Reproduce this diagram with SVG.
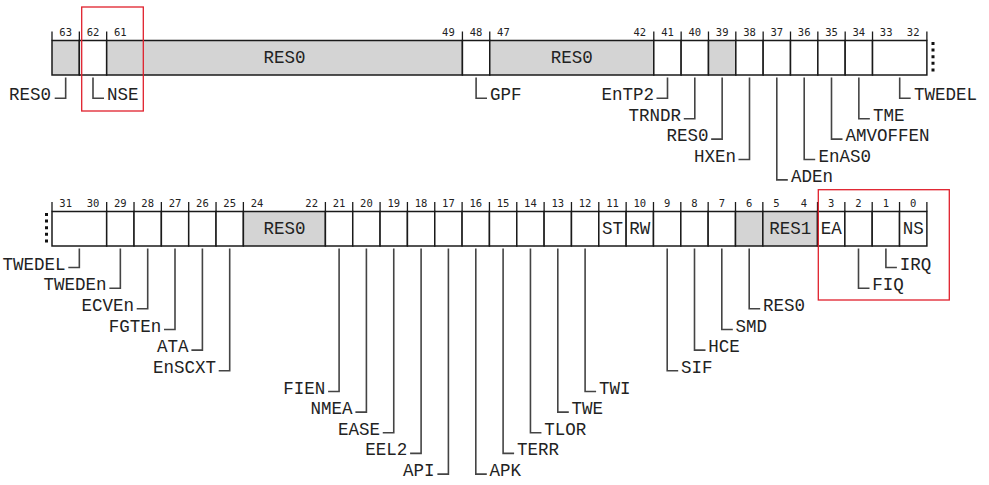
<svg xmlns="http://www.w3.org/2000/svg" width="989" height="485" viewBox="0 0 989 485">
<style>
.c{fill:#fff;stroke:#1a1a1a;stroke-width:1.5}
.g{fill:#d4d4d4;stroke:#1a1a1a;stroke-width:1.5}
.n{font-family:"DejaVu Sans Mono","Liberation Mono",monospace;font-size:10.5px;fill:#222;text-anchor:middle}
.t{font-family:"Liberation Mono","DejaVu Sans Mono",monospace;font-size:17.5px;fill:#222}
.m{text-anchor:middle}
.e{text-anchor:end}
.tick{stroke:#1a1a1a;stroke-width:1.3;fill:none}
.con{stroke:#444;stroke-width:1.6;fill:none}
.dot{stroke:#111;stroke-width:3;stroke-dasharray:3 3.6;fill:none}
.red{fill:none;stroke:#e0202c;stroke-width:1.3}
</style>
<rect width="989" height="485" fill="#fff"/>

<!-- top row -->
<g id="f63"><rect class="g" x="52" y="40.5" width="27.34" height="34.5"/><text class="n" x="65.67" y="36">63</text></g>
<g id="f62"><rect class="c" x="79.34" y="40.5" width="27.34" height="34.5"/><text class="n" x="93" y="36">62</text></g>
<g id="f61_49"><rect class="g" x="106.68" y="40.5" width="355.74" height="34.5"/><text class="n" x="120.35" y="36">61</text><text class="n" x="448.4" y="36">49</text><text class="t m" x="284.55" y="63.3">RES0</text></g>
<g id="f48"><rect class="c" x="462.42" y="40.5" width="27.34" height="34.5"/><text class="n" x="476.1" y="36">48</text></g>
<g id="f47_42"><rect class="g" x="489.76" y="40.5" width="164.04" height="34.5"/><text class="n" x="503.4" y="36">47</text><text class="n" x="639.8" y="36">42</text><text class="t m" x="571.78" y="63.3">RES0</text></g>
<g id="f41"><rect class="c" x="653.8" y="40.5" width="27.34" height="34.5"/><text class="n" x="667.5" y="36">41</text></g>
<g id="f40"><rect class="c" x="681.14" y="40.5" width="27.34" height="34.5"/><text class="n" x="694.8" y="36">40</text></g>
<g id="f39"><rect class="g" x="708.48" y="40.5" width="27.34" height="34.5"/><text class="n" x="722.15" y="36">39</text></g>
<g id="f38"><rect class="c" x="735.82" y="40.5" width="27.34" height="34.5"/><text class="n" x="749.5" y="36">38</text></g>
<g id="f37"><rect class="c" x="763.16" y="40.5" width="27.34" height="34.5"/><text class="n" x="776.8" y="36">37</text></g>
<g id="f36"><rect class="c" x="790.5" y="40.5" width="27.34" height="34.5"/><text class="n" x="804.2" y="36">36</text></g>
<g id="f35"><rect class="c" x="817.84" y="40.5" width="27.34" height="34.5"/><text class="n" x="831.5" y="36">35</text></g>
<g id="f34"><rect class="c" x="845.18" y="40.5" width="27.34" height="34.5"/><text class="n" x="858.85" y="36">34</text></g>
<g id="f33_32"><rect class="c" x="872.52" y="40.5" width="54.36" height="34.5"/><text class="n" x="886.2" y="36">33</text><text class="n" x="913.2" y="36">32</text></g>
<g id="top-ticks"><path class="tick" d="M52 31.5V40.5M79.34 31.5V40.5M106.68 31.5V40.5M462.42 31.5V40.5M489.76 31.5V40.5M653.8 31.5V40.5M681.14 31.5V40.5M708.48 31.5V40.5M735.82 31.5V40.5M763.16 31.5V40.5M790.5 31.5V40.5M817.84 31.5V40.5M845.18 31.5V40.5M872.52 31.5V40.5M926.88 31.5V40.5"/>
<path class="dot" d="M933 42V73"/></g>

<!-- bottom row -->
<g id="b31_30"><rect class="c" x="52" y="211.5" width="54.68" height="34.5"/><text class="n" x="65.67" y="206.7">31</text><text class="n" x="93" y="206.7">30</text></g>
<g id="b29"><rect class="c" x="106.68" y="211.5" width="27.34" height="34.5"/><text class="n" x="120.35" y="206.7">29</text></g>
<g id="b28"><rect class="c" x="134.02" y="211.5" width="27.34" height="34.5"/><text class="n" x="147.7" y="206.7">28</text></g>
<g id="b27"><rect class="c" x="161.36" y="211.5" width="27.34" height="34.5"/><text class="n" x="175" y="206.7">27</text></g>
<g id="b26"><rect class="c" x="188.7" y="211.5" width="27.34" height="34.5"/><text class="n" x="202.4" y="206.7">26</text></g>
<g id="b25"><rect class="c" x="216.04" y="211.5" width="27.34" height="34.5"/><text class="n" x="229.7" y="206.7">25</text></g>
<g id="b24_22"><rect class="g" x="243.38" y="211.5" width="82.02" height="34.5"/><text class="n" x="257.05" y="206.7">24</text><text class="n" x="311.7" y="206.7">22</text><text class="t m" x="284.4" y="234.3">RES0</text></g>
<g id="b21"><rect class="c" x="325.4" y="211.5" width="27.34" height="34.5"/><text class="n" x="339.1" y="206.7">21</text></g>
<g id="b20"><rect class="c" x="352.74" y="211.5" width="27.34" height="34.5"/><text class="n" x="366.4" y="206.7">20</text></g>
<g id="b19"><rect class="c" x="380.08" y="211.5" width="27.34" height="34.5"/><text class="n" x="393.75" y="206.7">19</text></g>
<g id="b18"><rect class="c" x="407.42" y="211.5" width="27.34" height="34.5"/><text class="n" x="421.1" y="206.7">18</text></g>
<g id="b17"><rect class="c" x="434.76" y="211.5" width="27.34" height="34.5"/><text class="n" x="448.4" y="206.7">17</text></g>
<g id="b16"><rect class="c" x="462.1" y="211.5" width="27.34" height="34.5"/><text class="n" x="475.8" y="206.7">16</text></g>
<g id="b15"><rect class="c" x="489.44" y="211.5" width="27.34" height="34.5"/><text class="n" x="503.1" y="206.7">15</text></g>
<g id="b14"><rect class="c" x="516.78" y="211.5" width="27.34" height="34.5"/><text class="n" x="530.45" y="206.7">14</text></g>
<g id="b13"><rect class="c" x="544.12" y="211.5" width="27.34" height="34.5"/><text class="n" x="557.8" y="206.7">13</text></g>
<g id="b12"><rect class="c" x="571.46" y="211.5" width="27.34" height="34.5"/><text class="n" x="585.1" y="206.7">12</text></g>
<g id="b11"><rect class="c" x="598.8" y="211.5" width="27.34" height="34.5"/><text class="n" x="612.5" y="206.7">11</text><text class="t m" x="612.5" y="234.3">ST</text></g>
<g id="b10"><rect class="c" x="626.14" y="211.5" width="27.34" height="34.5"/><text class="n" x="639.8" y="206.7">10</text><text class="t m" x="639.8" y="234.3">RW</text></g>
<g id="b9"><rect class="c" x="653.48" y="211.5" width="27.34" height="34.5"/><text class="n" x="667.2" y="206.7">9</text></g>
<g id="b8"><rect class="c" x="680.82" y="211.5" width="27.34" height="34.5"/><text class="n" x="694.5" y="206.7">8</text></g>
<g id="b7"><rect class="c" x="708.16" y="211.5" width="27.34" height="34.5"/><text class="n" x="721.8" y="206.7">7</text></g>
<g id="b6"><rect class="g" x="735.5" y="211.5" width="27.34" height="34.5"/><text class="n" x="749.2" y="206.7">6</text></g>
<g id="b5_4"><rect class="g" x="762.84" y="211.5" width="54.68" height="34.5"/><text class="n" x="776.5" y="206.7">5</text><text class="n" x="803.85" y="206.7">4</text><text class="t m" x="790.2" y="234.3">RES1</text></g>
<g id="b3"><rect class="c" x="817.52" y="211.5" width="27.34" height="34.5"/><text class="n" x="831.2" y="206.7">3</text><text class="t m" x="831.2" y="234.3">EA</text></g>
<g id="b2"><rect class="c" x="844.86" y="211.5" width="27.34" height="34.5"/><text class="n" x="858.5" y="206.7">2</text></g>
<g id="b1"><rect class="c" x="872.2" y="211.5" width="27.34" height="34.5"/><text class="n" x="885.9" y="206.7">1</text></g>
<g id="b0"><rect class="c" x="899.54" y="211.5" width="27.34" height="34.5"/><text class="n" x="913.2" y="206.7">0</text><text class="t m" x="913.2" y="234.3">NS</text></g>
<g id="bottom-ticks"><path class="tick" d="M52 202V211.5M106.68 202V211.5M134.02 202V211.5M161.36 202V211.5M188.7 202V211.5M216.04 202V211.5M243.38 202V211.5M325.4 202V211.5M352.74 202V211.5M380.08 202V211.5M407.42 202V211.5M434.76 202V211.5M462.1 202V211.5M489.44 202V211.5M516.78 202V211.5M544.12 202V211.5M571.46 202V211.5M598.8 202V211.5M626.14 202V211.5M653.48 202V211.5M680.82 202V211.5M708.16 202V211.5M735.5 202V211.5M762.84 202V211.5M817.52 202V211.5M844.86 202V211.5M872.2 202V211.5M899.54 202V211.5M926.88 202V211.5"/>
<path class="dot" d="M46.5 213V246"/></g>

<!-- connectors -->
<g id="connectors">
<path class="con" d="M65.67 77.5V98.3H54.7"/>
<path class="con" d="M93 77.5V98.3H104"/>
<path class="con" d="M476.1 77.5V98.3H487"/>
<path class="con" d="M667.5 77.5V98.3H656.5"/>
<path class="con" d="M694.8 77.5V118.7H683.8"/>
<path class="con" d="M722.15 77.5V139.1H711.15"/>
<path class="con" d="M749.5 77.5V159.5H738.5"/>
<path class="con" d="M776.8 77.5V179.9H787.8"/>
<path class="con" d="M804.2 77.5V159.5H815.2"/>
<path class="con" d="M831.5 77.5V139.1H842.5"/>
<path class="con" d="M858.85 77.5V118.7H869.85"/>
<path class="con" d="M899.7 77.5V98.3H910.7"/>

<path class="con" d="M79.34 248.5V267.5H68.3"/>
<path class="con" d="M120.35 248.5V288.2H109.35"/>
<path class="con" d="M147.7 248.5V308.8H136.7"/>
<path class="con" d="M175 248.5V329.5H164"/>
<path class="con" d="M202.4 248.5V350.1H191.4"/>
<path class="con" d="M229.7 248.5V370.8H218.7"/>
<path class="con" d="M339.1 248.5V391.5H328.1"/>
<path class="con" d="M366.4 248.5V412.1H355.4"/>
<path class="con" d="M393.75 248.5V432.8H382.75"/>
<path class="con" d="M421.1 248.5V453.4H410.1"/>
<path class="con" d="M448.4 248.5V474.1H437.4"/>
<path class="con" d="M475.8 248.5V474.1H486.8"/>
<path class="con" d="M503.1 248.5V453.4H514.1"/>
<path class="con" d="M530.45 248.5V432.8H541.45"/>
<path class="con" d="M557.8 248.5V412.1H568.8"/>
<path class="con" d="M585.1 248.5V391.5H596.1"/>
<path class="con" d="M667.2 248.5V370.8H678.2"/>
<path class="con" d="M694.5 248.5V350.1H705.5"/>
<path class="con" d="M721.8 248.5V329.5H732.8"/>
<path class="con" d="M749.2 248.5V308.8H760.2"/>
<path class="con" d="M858.5 248.5V288.2H869.5"/>
<path class="con" d="M885.9 248.5V267.5H896.9"/>
</g>

<!-- field name labels -->
<g id="labels">
<text class="t e" x="51" y="100.3">RES0</text>
<text class="t" x="107" y="100.3">NSE</text>
<text class="t" x="490" y="100.3">GPF</text>
<text class="t e" x="654" y="100.3">EnTP2</text>
<text class="t e" x="681" y="120.7">TRNDR</text>
<text class="t e" x="708.5" y="141.1">RES0</text>
<text class="t e" x="736" y="161.5">HXEn</text>
<text class="t" x="791" y="181.9">ADEn</text>
<text class="t" x="818.5" y="161.5">EnAS0</text>
<text class="t" x="845.5" y="141.1">AMVOFFEN</text>
<text class="t" x="873" y="120.7">TME</text>
<text class="t" x="914" y="100.3">TWEDEL</text>

<text class="t e" x="65.5" y="269.5">TWEDEL</text>
<text class="t e" x="106.5" y="290.2">TWEDEn</text>
<text class="t e" x="134" y="310.8">ECVEn</text>
<text class="t e" x="161.3" y="331.5">FGTEn</text>
<text class="t e" x="188.6" y="352.1">ATA</text>
<text class="t e" x="216" y="372.8">EnSCXT</text>
<text class="t e" x="325.3" y="393.5">FIEN</text>
<text class="t e" x="352.6" y="414.1">NMEA</text>
<text class="t e" x="380" y="434.8">EASE</text>
<text class="t e" x="407.3" y="455.4">EEL2</text>
<text class="t e" x="434.6" y="476.1">API</text>
<text class="t" x="489.6" y="476.1">APK</text>
<text class="t" x="516.9" y="455.4">TERR</text>
<text class="t" x="544.2" y="434.8">TLOR</text>
<text class="t" x="571.6" y="414.1">TWE</text>
<text class="t" x="598.9" y="393.5">TWI</text>
<text class="t" x="681" y="372.8">SIF</text>
<text class="t" x="708.3" y="352.1">HCE</text>
<text class="t" x="735.6" y="331.5">SMD</text>
<text class="t" x="763" y="310.8">RES0</text>
<text class="t" x="872.3" y="290.2">FIQ</text>
<text class="t" x="899.7" y="269.5">IRQ</text>
</g>

<!-- highlight boxes -->
<rect class="red" x="81.7" y="7" width="61.6" height="104"/>
<rect class="red" x="818.3" y="189.7" width="131" height="110.3"/>
</svg>
